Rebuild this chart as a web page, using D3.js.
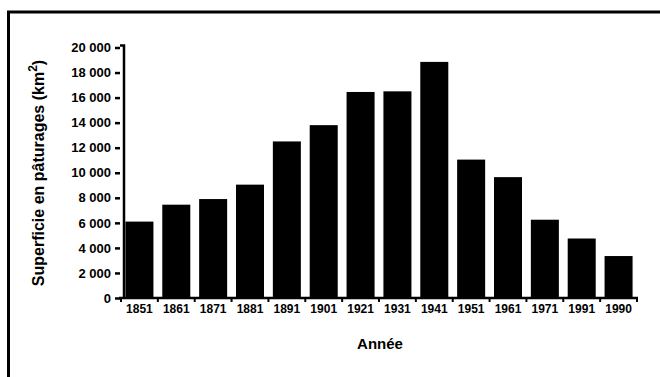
<!DOCTYPE html>
<html><head><meta charset="utf-8">
<script src="https://cdn.jsdelivr.net/npm/d3@7"></script>
<style>
html,body{margin:0;padding:0;background:#fff;overflow:hidden;}
svg{display:block;}
</style></head>
<body>
<svg id="chart" width="660" height="377"></svg>
<script>
const years = ["1851","1861","1871","1881","1891","1901","1921","1931","1941","1951","1961","1971","1991","1990"];
const surfaces = [6100, 7450, 7900, 9050, 12500, 13800, 16450, 16500, 18850, 11050, 9650, 6250, 4750, 3350];
const yTicks = [0,2000,4000,6000,8000,10000,12000,14000,16000,18000,20000];
const yTitle = "Superficie en pâturages (km";
const xTitle = "Année";

const svg = d3.select("#chart");
const font = "'Liberation Sans', Arial, sans-serif";

// frame (only top and left edges visible in the picture)
svg.append("path").attr("d","M8.5,377V12H660")
  .attr("fill","none").attr("stroke","#000").attr("stroke-width",3);

const x = d3.scaleBand().domain(years).range([121, 637]).paddingInner(0.24).paddingOuter(0.12);
const y = d3.scaleLinear().domain([0, 20000]).range([298, 47.5]);

// bars
svg.append("g").selectAll("rect").data(years).join("rect")
  .attr("x", d => x(d)).attr("width", x.bandwidth())
  .attr("y", (d,i) => y(surfaces[i])).attr("height", (d,i) => y(0) - y(surfaces[i]))
  .attr("fill", "#000");

// y axis
const fmt = v => d3.format(",")(v).replace(/,/g, " ");
const yAxis = svg.append("g").attr("transform","translate(120,0)")
  .call(d3.axisLeft(y).tickValues(yTicks).tickFormat(fmt).tickSize(5).tickSizeOuter(0));
yAxis.select(".domain").attr("stroke","#000").attr("stroke-width",2.5);
yAxis.selectAll(".tick line").attr("stroke","#000").attr("stroke-width",2.5);
yAxis.selectAll(".tick text").attr("font-family",font).attr("font-weight","bold")
  .attr("font-size",13).attr("fill","#000").attr("x",-9);
yAxis.select(".domain").attr("d", `M0,${y(20000)-2}H4V${y(0)}`);

// x axis
const step = x.step();
const x0 = x.range()[0];
const xg = svg.append("g");
xg.append("line").attr("x1",119).attr("x2",638).attr("y1",y(0)).attr("y2",y(0))
  .attr("stroke","#000").attr("stroke-width",2.5);
xg.selectAll("line.tk").data(d3.range(years.length + 1)).join("line").attr("class","tk")
  .attr("x1", i => x0 + i*step).attr("x2", i => x0 + i*step)
  .attr("y1", y(0)).attr("y2", y(0)+4).attr("stroke","#000").attr("stroke-width",2);
xg.selectAll("text").data(years).join("text")
  .attr("x", d => x(d) + x.bandwidth()/2).attr("y", 313)
  .attr("text-anchor","middle").attr("font-family",font).attr("font-weight","bold")
  .attr("font-size",12).attr("fill","#000").text(d => d);

// titles
svg.append("text").attr("x",380).attr("y",349).attr("text-anchor","middle")
  .attr("font-family",font).attr("font-weight","bold").attr("font-size",15).attr("fill","#000")
  .text(xTitle);

const yt = svg.append("text").attr("transform","translate(44,173) rotate(-90)")
  .attr("text-anchor","middle").attr("font-family",font).attr("font-weight","bold")
  .attr("font-size",16).attr("fill","#000");
yt.append("tspan").text(yTitle);
yt.append("tspan").attr("dy",-7).attr("font-size",12).text("2");
yt.append("tspan").attr("dy",7).text(")");
</script>
</body></html>
